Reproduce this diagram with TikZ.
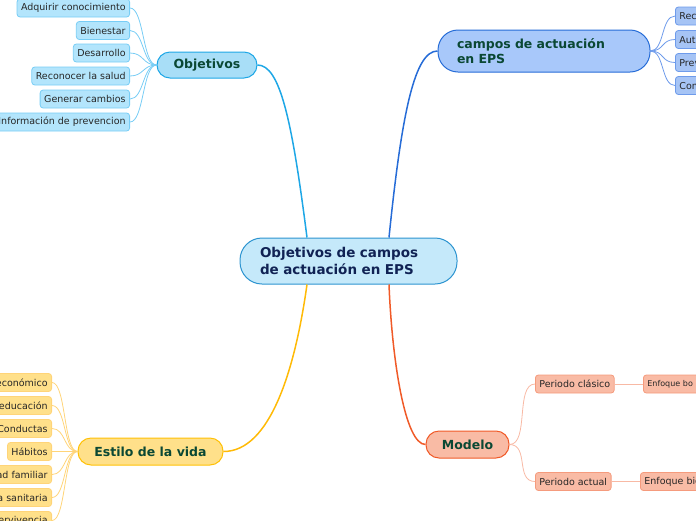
\documentclass[tikz,border=0pt]{standalone}
\usepackage{fontspec}
\setmainfont{DejaVu Sans}
\usetikzlibrary{calc}

\definecolor{ctrfill}{RGB}{197,233,250}
\definecolor{ctrdraw}{RGB}{44,148,208}
\definecolor{ctrtext}{RGB}{16,34,84}
\definecolor{brtext}{RGB}{10,72,52}
\definecolor{objfill}{RGB}{168,222,247}
\definecolor{objdraw}{RGB}{30,167,230}
\definecolor{objleaf}{RGB}{179,229,252}
\definecolor{objleafdraw}{RGB}{120,205,245}
\definecolor{camfill}{RGB}{168,200,250}
\definecolor{camdraw}{RGB}{38,108,215}
\definecolor{camleaf}{RGB}{166,196,245}
\definecolor{camleafdraw}{RGB}{110,155,235}
\definecolor{estfill}{RGB}{255,224,138}
\definecolor{estdraw}{RGB}{255,193,7}
\definecolor{estleafdraw}{RGB}{255,212,120}
\definecolor{modfill}{RGB}{249,187,165}
\definecolor{moddraw}{RGB}{240,90,40}
\definecolor{modleafdraw}{RGB}{245,155,125}

\tikzset{
  branch/.style={draw, line width=1pt, rounded corners=13pt, font=\fontsize{12.5}{15}\selectfont\bfseries, text=brtext, minimum height=26pt},
  leaf/.style={draw, line width=0.8pt, rounded corners=3pt, font=\fontsize{9.5}{11}\selectfont, text=black!85, minimum height=18pt, inner xsep=4pt, inner ysep=0pt},
  link/.style={line width=0.8pt},
  trunk/.style={line width=1.5pt}
}

\begin{document}
\begin{tikzpicture}[x=1pt, y=-1pt]
  \useasboundingbox (0,0) rectangle (696,520);
  \clip (0,0) rectangle (696,520);

  % central topic
  \node[draw=ctrdraw, fill=ctrfill, line width=1pt, rounded corners=22pt, minimum height=46pt,
        text width=177pt, inner xsep=20pt, align=left, text=ctrtext,
        font=\fontsize{13.5}{17}\selectfont\bfseries] (ctr) at (348.5,261)
    {Objetivos de campos\\de actuación en EPS};

  % main branches
  \node[branch, draw=objdraw, fill=objfill, minimum width=100pt] (obj) at (207,65) {Objetivos};
  \node[branch, draw=camdraw, fill=camfill, rounded corners=20pt, minimum height=42pt,
        text width=174pt, inner xsep=19pt, align=left] (cam) at (544,51) {campos de actuación\\en EPS};
  \node[branch, draw=estdraw, fill=estfill, minimum width=145pt, minimum height=27pt] (est) at (150.5,451.5) {Estilo de la vida};
  \node[branch, draw=moddraw, fill=modfill, minimum width=83pt, minimum height=27pt] (mod) at (467.5,444.5) {Modelo};

  \draw[trunk, objdraw] ($(ctr.north)+(-41.5,0)$) .. controls (292,120) and (280,65) .. (obj.east);
  \draw[trunk, camdraw] ($(ctr.north)+(40.5,0)$) .. controls (402,110) and (415,51) .. (cam.west);
  \draw[trunk, estdraw!90!orange] ($(ctr.south)+(-41.5,0)$) .. controls (295,370) and (270,451.5) .. (est.east);
  \draw[trunk, moddraw] ($(ctr.south)+(40.5,0)$) .. controls (392,360) and (405,444.5) .. (mod.west);

  % Objetivos
  \foreach \n/\y/\t in {o1/8/Adquirir conocimiento, o2/30.5/Bienestar, o3/53/Desarrollo,
                        o4/76/Reconocer la salud, o5/99/Generar cambios, o6/122/Información de prevencion} {
    \node[leaf, draw=objleafdraw, fill=objleaf, anchor=east] (\n) at (130,\y) {\t};
    \draw[link, objleafdraw] (obj.west) .. controls +(-14,0) and +(14,0) .. (\n.east);
  }

  % campos de actuacion
  \foreach \n/\y/\t in {c1/16/Recursos, c2/39.5/Autocuidado, c3/62.5/Prevención, c4/85.5/Comunidad} {
    \node[leaf, draw=camleafdraw, fill=camleaf, anchor=west] (\n) at (675,\y) {\t};
    \draw[link, camleafdraw] (cam.east) .. controls +(14,0) and +(-14,0) .. (\n.west);
  }

  % Estilo de la vida
  \foreach \n/\y/\t in {e1/382.5/Nivel socioeconómico, e2/405.5/Nivel de educación, e3/428.5/Conductas,
                        e4/451.5/Hábitos, e5/474.5/Unidad familiar, e6/497.5/Asistencia sanitaria, e7/520.5/Supervivencia} {
    \node[leaf, draw=estleafdraw, fill=estfill, anchor=east] (\n) at (52,\y) {\t};
    \draw[link, estleafdraw] (est.west) .. controls +(-14,0) and +(14,0) .. (\n.east);
  }

  % Modelo
  \node[leaf, draw=modleafdraw, fill=modfill, anchor=west] (p1) at (535,384) {Periodo clásico};
  \node[leaf, draw=modleafdraw, fill=modfill, anchor=west] (p2) at (535,481.5) {Periodo actual};
  \node[leaf, draw=modleafdraw, fill=modfill, anchor=west, font=\fontsize{8}{10}\selectfont,
        text width=80pt, align=left] (f1) at (643,384) {Enfoque bo};
  \node[leaf, draw=modleafdraw, fill=modfill, anchor=west] (f2) at (640,481.5) {Enfoque biopsicosocial};
  \draw[link, modleafdraw!70!white] (mod.east) .. controls +(20,0) and +(-20,0) .. (p1.west);
  \draw[link, modleafdraw!70!white] (mod.east) .. controls +(20,0) and +(-20,0) .. (p2.west);
  \draw[link, modleafdraw!70!white] (p1) -- (f1);
  \draw[link, modleafdraw!70!white] (p2) -- (f2);
\end{tikzpicture}
\end{document}
